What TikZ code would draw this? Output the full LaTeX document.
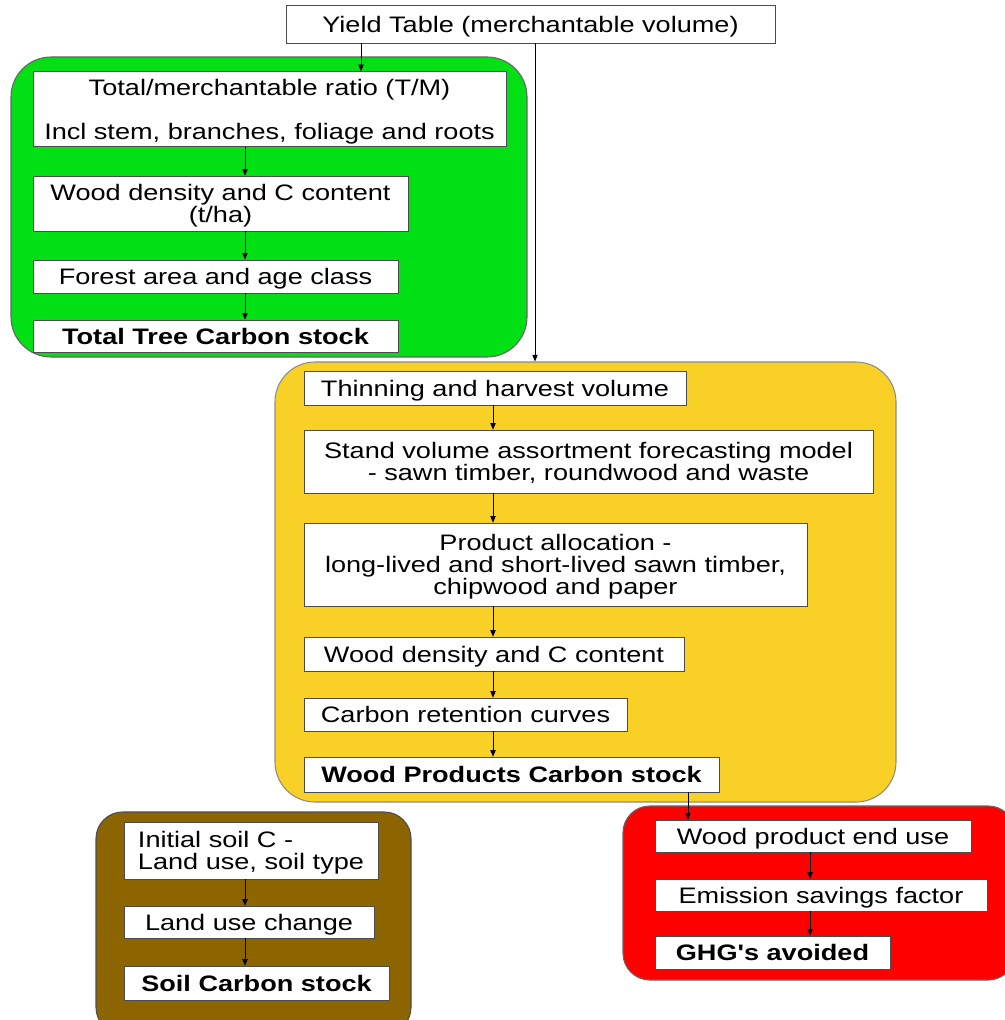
\documentclass[tikz,border=0pt]{standalone}
\usepackage{fontspec}
\setmainfont[FakeStretch=1.21,Ligatures=TeXOff]{Liberation Sans}
\usetikzlibrary{arrows.meta}

\definecolor{treegreen}{RGB}{0,224,20}
\definecolor{prodyellow}{RGB}{249,209,38}
\definecolor{endred}{RGB}{255,0,0}
\definecolor{soilbrown}{RGB}{140,100,0}

\begin{document}
\begin{tikzpicture}[x=0.75pt,y=-0.75pt,
  sz/.style 2 args={minimum width=#1*0.75pt,minimum height=#2*0.75pt},
  box/.style={draw=black!70,fill=white,inner sep=0pt,text depth=0pt,align=center,font=\fontsize{16.8}{16.5}\selectfont},
  panel/.style={draw=#1,line width=0.8pt,rounded corners=30pt,inner sep=0pt},
  arr/.style={-{Triangle[length=5pt,width=4pt]},black,line width=0.6pt}]
\useasboundingbox (0,0) rectangle (1005,1020);

% panels
\node[panel=black!60,fill=treegreen,sz={516}{300}] (treepanel) at (269,207) {};
\node[panel=black!45,fill=prodyellow,sz={621}{440}] (prodpanel) at (585.5,582) {};
\node[panel=black!60,fill=endred,rounded corners=20pt,sz={392}{174}] (redpanel) at (819,893) {};
\node[panel=black!70,fill=soilbrown,rounded corners=20pt,sz={315}{222}] (soilpanel) at (253.5,923) {};

% columns of the arrows
\coordinate (gin) at (361,0);
\coordinate (yx) at (535,0);
\coordinate (gcol) at (245,0);
\coordinate (ycol) at (493,0);
\coordinate (rin) at (688,0);
\coordinate (rcol) at (810,0);

\node[box,sz={489}{38}] (yield) at (530.5,24) {Yield Table (merchantable volume)};

% tree carbon
\node[box,sz={473}{75}] (ratio) at (269.5,109) {Total/merchantable ratio (T/M)\\[16.5pt]Incl stem, branches, foliage and roots};
\node[box,sz={375}{55}] (wooddens) at (220.5,203.5) {Wood density and C content\\(t/ha)};
\node[box,sz={365}{33}] (area) at (215.5,276.5) {Forest area and age class};
\node[box,sz={365}{32}] (treestock) at (215.5,336) {\bfseries Total Tree Carbon stock};

% wood products
\node[box,sz={382}{34}] (harvest) at (495,388) {Thinning and harvest volume};
\node[box,sz={569}{63}] (assort) at (588.5,461.5) {Stand volume assortment forecasting model\\- sawn timber, roundwood and waste};
\node[box,sz={503}{83}] (alloc) at (555.5,564.5) {Product allocation -\\long-lived and short-lived sawn timber,\\chipwood and paper};
\node[box,sz={380}{34}] (proddens) at (494,654) {Wood density and C content};
\node[box,sz={323}{33}] (retention) at (465.5,714.5) {Carbon retention curves};
\node[box,sz={415}{35}] (prodstock) at (511.5,774.5) {\bfseries Wood Products Carbon stock};

% end use
\node[box,sz={316}{32}] (enduse) at (813,836) {Wood product end use};
\node[box,sz={332}{32}] (savings) at (821,895) {Emission savings factor};
\node[box,sz={235}{33}] (ghg) at (772.5,952.5) {\bfseries GHG's avoided};

% soil
\node[box,align=left,sz={254}{57}] (initsoil) at (251,850.5) {Initial soil C -\\Land use, soil type};
\node[box,sz={250}{32}] (luc) at (249,922) {Land use change};
\node[box,sz={265}{34}] (soilstock) at (256.5,983) {\bfseries Soil Carbon stock};

% arrows
\draw[arr] (yield.south -| gin) -- (ratio.north -| gin);
\draw[arr] (yield.south -| yx) -- (prodpanel.north -| yx);
\draw[arr] (prodstock.south -| rin) -- (enduse.north -| rin);
\foreach \a/\b in {ratio/wooddens,wooddens/area,area/treestock,initsoil/luc,luc/soilstock}
  \draw[arr] (\a.south -| gcol) -- (\b.north -| gcol);
\foreach \a/\b in {harvest/assort,assort/alloc,alloc/proddens,proddens/retention,retention/prodstock}
  \draw[arr] (\a.south -| ycol) -- (\b.north -| ycol);
\foreach \a/\b in {enduse/savings,savings/ghg}
  \draw[arr] (\a.south -| rcol) -- (\b.north -| rcol);
\end{tikzpicture}
\end{document}
